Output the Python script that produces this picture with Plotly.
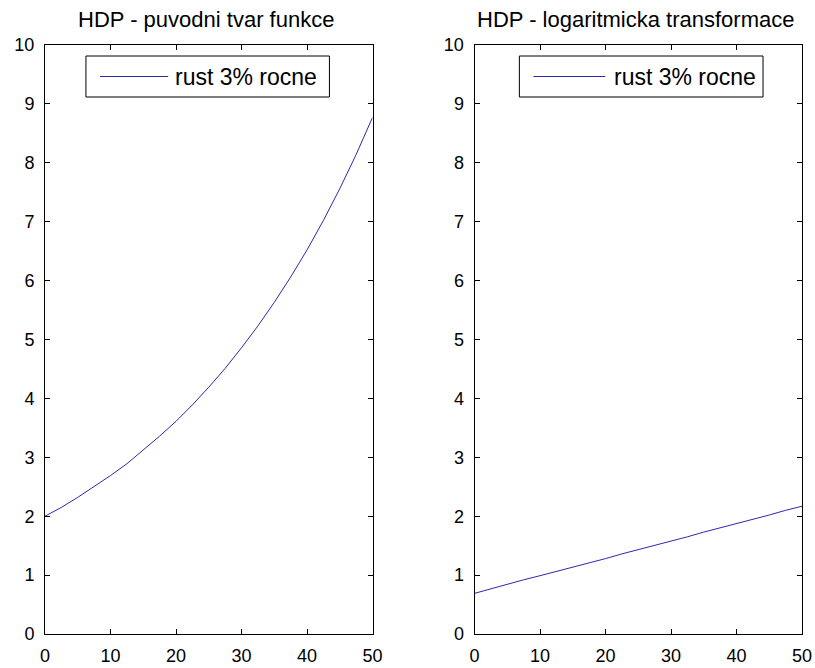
import plotly.graph_objects as go
from plotly.subplots import make_subplots

# data
years = [0, 2.5, 5, 7.5, 10, 12.5, 15, 17.5, 20, 22.5, 25, 27.5, 30, 32.5, 35,
         37.5, 40, 42.5, 45, 47.5, 50]
hdp_original = [2.00, 2.15, 2.32, 2.50, 2.69, 2.89, 3.12, 3.36, 3.61, 3.89, 4.19,
                4.51, 4.86, 5.23, 5.63, 6.06, 6.52, 7.02, 7.56, 8.14, 8.77]
hdp_log = [0.69, 0.77, 0.84, 0.92, 0.99, 1.06, 1.14, 1.21, 1.28, 1.36, 1.43,
           1.51, 1.58, 1.65, 1.73, 1.80, 1.88, 1.95, 2.02, 2.10, 2.17]
titles = ["HDP - puvodni tvar funkce", "HDP - logaritmicka transformace"]
legend_label = "rust 3% rocne"
x_ticks = [0, 10, 20, 30, 40, 50]
y_ticks = list(range(0, 11))

FONT = "Liberation Sans, Arial, sans-serif"
LINE_COLOR = "#2a2ab0"
W, H = 815, 668
ml, mr, mt, mb = 45, 13, 45, 34
pw = W - ml - mr

fig = make_subplots(rows=1, cols=2, horizontal_spacing=102 / pw)
fig.add_trace(go.Scatter(x=years, y=hdp_original, mode="lines", name=legend_label,
                         line=dict(color=LINE_COLOR, width=1), showlegend=False), 1, 1)
fig.add_trace(go.Scatter(x=years, y=hdp_log, mode="lines", name=legend_label,
                         line=dict(color=LINE_COLOR, width=1), showlegend=False), 1, 2)

axis_common = dict(showgrid=False, zeroline=False, showline=True, linecolor="black",
                   linewidth=1, mirror="ticks", ticks="inside", ticklen=5,
                   tickcolor="black", automargin=False, ticklabeloverflow="allow",
                   tickfont=dict(family=FONT, size=18, color="black"))
for c in (1, 2):
    fig.update_xaxes(range=[0, 50], tickvals=x_ticks, ticklabelstandoff=5,
                     row=1, col=c, **axis_common)
    fig.update_yaxes(range=[0, 10], tickvals=y_ticks, ticklabelstandoff=6,
                     row=1, col=c, **axis_common)

shapes = []
annotations = []
legend_geom = [  # (xref, yref, rect x0, rect x1, line x0, line x1, text x)
    ("x domain", "y domain", 0.125, 0.8685, 0.168, 0.376, 0.391),
    ("x2 domain", "y2 domain", 0.137, 0.881, 0.180, 0.399, 0.421),
]
for i, (xr, yr, rx0, rx1, lx0, lx1, tx) in enumerate(legend_geom):
    shapes.append(dict(type="rect", xref=xr, yref=yr, x0=rx0, x1=rx1,
                       y0=0.9117, y1=0.9813, line=dict(color="black", width=1),
                       fillcolor="white", layer="above"))
    shapes.append(dict(type="line", xref=xr, yref=yr, x0=lx0, x1=lx1,
                       y0=0.9465, y1=0.9465, line=dict(color=LINE_COLOR, width=1),
                       layer="above"))
    annotations.append(dict(xref=xr, yref=yr, x=tx, y=0.9465, text=legend_label,
                            showarrow=False, xanchor="left", yanchor="middle",
                            font=dict(family=FONT, size=23, color="black")))
    annotations.append(dict(xref=xr, yref="paper", x=0.5, y=1, yshift=11, xshift=-3,
                            text=titles[i], showarrow=False, xanchor="center",
                            yanchor="bottom",
                            font=dict(family=FONT, size=22, color="black")))

fig.update_layout(width=W, height=H, margin=dict(l=ml, r=mr, t=mt, b=mb,
                                                 autoexpand=False),
                  paper_bgcolor="white", plot_bgcolor="white",
                  shapes=shapes, annotations=annotations, showlegend=False,
                  font=dict(family=FONT))
# remove the default 8px page margin so the figure fills the window exactly
fig.write_html("out.html", config={"displayModeBar": False},
               post_script="document.body.style.margin='0';"
                           "document.body.style.overflow='hidden';")
